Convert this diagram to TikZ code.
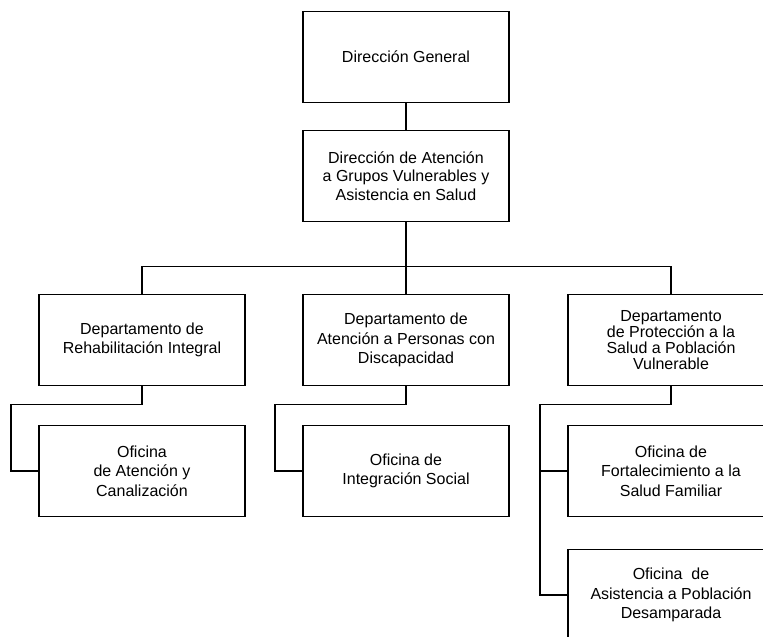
\documentclass[tikz,border=0pt]{standalone}
\usepackage{fontspec}
\setmainfont{Liberation Sans}
\usetikzlibrary{positioning}

\begin{document}
\begin{tikzpicture}[node distance={28pt}]
	\tikzstyle{box}=[draw, rectangle, line width=1.2pt, minimum width=206pt, minimum height=91pt, align=center, inner sep=0pt, outer sep=0pt, font=\fontsize{16}{19.5}\selectfont]
	\tikzstyle{conn}=[line width=1.2pt]

	\useasboundingbox (0pt,0pt) rectangle (763pt,-637pt);
	\clip (0pt,0pt) rectangle (763pt,-637pt);

	\node[box] (dg) at (406pt,-57pt) {Dirección General};
	\node[box,font=\fontsize{16}{18.5}\selectfont] (da) [below=28pt of dg] {Dirección de Atención\\a Grupos Vulnerables y\\Asistencia en Salud};
	\node[box] (d2) [below=73pt of da] {Departamento de\\Atención a Personas con\\Discapacidad};
	\node[box] (d1) [left=58pt of d2] {Departamento de\\Rehabilitación Integral};
	\node[box,font=\fontsize{16}{16}\selectfont] (d3) [right=59pt of d2] {Departamento\\de Protección a la\\Salud a Población\\Vulnerable};
	\node[box] (o1) [below=40pt of d1] {Oficina\\de Atención y\\Canalización};
	\node[box] (o2) [below=40pt of d2] {Oficina de\\Integración Social};
	\node[box] (o3) [below=40pt of d3] {Oficina de\\Fortalecimiento a la\\Salud Familiar};
	\node[box] (o4) [below=33pt of o3] {Oficina~ de\\Asistencia a Población\\Desamparada};

	\draw[conn] (dg) -- (da);
	\foreach \to in {d1,d2,d3}
	\draw[conn] (da.south) -- ++(0,-45pt) -| (\to.north);
	\foreach \from/\to in {d1/o1,d2/o2,d3/o3,d3/o4}
	\draw[conn] (\from.south) -- ++(0,-19pt) -| ([xshift=-28pt]\to.west) -- (\to.west);
\end{tikzpicture}
\end{document}
